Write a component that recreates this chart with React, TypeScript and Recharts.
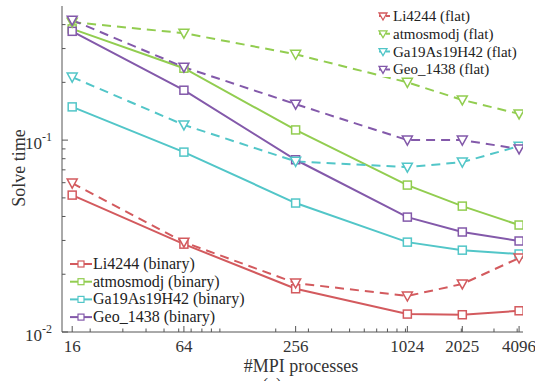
import { LineChart, Line, XAxis, YAxis } from "recharts"

// x: number of MPI processes, y: solve time (log-log)
const procs = [16, 64, 256, 1024, 2025, 4096]

const li4244Binary = [0.0517, 0.0287, 0.0168, 0.0124, 0.0123, 0.0129]
const li4244Flat = [0.0597, 0.0294, 0.018, 0.0154, 0.0178, 0.0243]
const atmosmodjBinary = [0.38, 0.237, 0.113, 0.0583, 0.0453, 0.0361]
const atmosmodjFlat = [0.412, 0.361, 0.28, 0.2, 0.162, 0.137]
const gaBinary = [0.149, 0.0866, 0.047, 0.0294, 0.0267, 0.0255]
const gaFlat = [0.213, 0.12, 0.0775, 0.0723, 0.0768, 0.093]
const geoBinary = [0.369, 0.182, 0.079, 0.0397, 0.0332, 0.0298]
const geoFlat = [0.422, 0.24, 0.154, 0.1, 0.1, 0.09]

const xMinor = [20, 30, 40, 50, 60, 70, 80, 90, 100, 200, 300, 400, 500, 600, 700, 800, 900, 1000, 2000, 3000, 4000]
const yMajor = [0.01, 0.1]
const yMinor = [0.02, 0.03, 0.04, 0.05, 0.06, 0.07, 0.08, 0.09, 0.2, 0.3, 0.4]

const RED = "#d35a5e"
const GREEN = "#92cd50"
const CYAN = "#52c6c8"
const PURPLE = "#8359aa"
const AXIS = "#555"
const FONT = "'Liberation Serif', 'Times New Roman', serif"

const series = [
  { key: "liB", name: "Li4244 (binary)", color: RED, flat: false, values: li4244Binary },
  { key: "atB", name: "atmosmodj (binary)", color: GREEN, flat: false, values: atmosmodjBinary },
  { key: "gaB", name: "Ga19As19H42 (binary)", color: CYAN, flat: false, values: gaBinary },
  { key: "geB", name: "Geo_1438 (binary)", color: PURPLE, flat: false, values: geoBinary },
  { key: "liF", name: "Li4244 (flat)", color: RED, flat: true, values: li4244Flat },
  { key: "atF", name: "atmosmodj (flat)", color: GREEN, flat: true, values: atmosmodjFlat },
  { key: "gaF", name: "Ga19As19H42 (flat)", color: CYAN, flat: true, values: gaFlat },
  { key: "geF", name: "Geo_1438 (flat)", color: PURPLE, flat: true, values: geoFlat },
]

const data = procs.map((p, i) => {
  const row: Record<string, number> = { p }
  series.forEach((s) => (row[s.key] = s.values[i]))
  return row
})

const xTicks = [...procs, ...xMinor].sort((a, b) => a - b)
const yTicks = [...yMajor, ...yMinor].sort((a, b) => a - b)

const square = (color: string, size: number) => (props: any) => {
  const { cx, cy, index } = props
  if (cx == null || cy == null) return <g key={index} />
  return (
    <rect key={index} x={cx - size / 2} y={cy - size / 2} width={size} height={size} fill="#fff" stroke={color} strokeWidth={1.5} />
  )
}

const triangle = (color: string) => (props: any) => {
  const { cx, cy, index } = props
  if (cx == null || cy == null) return <g key={index} />
  return (
    <path key={index} d={`M${cx - 5},${cy - 4}L${cx + 5},${cy - 4}L${cx},${cy + 5}Z`} fill="#fff" stroke={color} strokeWidth={1.5} />
  )
}

function BottomTick({ x, y, payload }: any) {
  const major = procs.includes(payload.value)
  return (
    <g>
      <line x1={x} x2={x} y1={y} y2={y - (major ? 6 : 3.5)} stroke={AXIS} />
      {major && (
        <text x={x} y={y + 20} textAnchor="middle" fontSize={17} fontFamily={FONT} fill="#333">
          {payload.value}
        </text>
      )}
    </g>
  )
}

function TopTick({ x, y, payload }: any) {
  const major = procs.includes(payload.value)
  return <line x1={x} x2={x} y1={y} y2={y + (major ? 6 : 3.5)} stroke={AXIS} />
}

function LeftTick({ x, y, payload }: any) {
  const major = yMajor.includes(payload.value)
  const exp = Math.round(Math.log10(payload.value))
  return (
    <g>
      <line x1={x} x2={x + (major ? 6 : 3.5)} y1={y} y2={y} stroke={AXIS} />
      {major && (
        <text x={x - 10} y={y + 9} textAnchor="end" fontSize={17} fontFamily={FONT} fill="#333">
          10
          <tspan dy={-8} fontSize={12}>
            {exp}
          </tspan>
        </text>
      )}
    </g>
  )
}

function RightTick({ x, y, payload }: any) {
  const major = yMajor.includes(payload.value)
  return <line x1={x} x2={x - (major ? 6 : 3.5)} y1={y} y2={y} stroke={AXIS} />
}

export default function App() {
  const binary = series.filter((s) => !s.flat)
  const flat = series.filter((s) => s.flat)

  return (
    <div style={{ position: "absolute", left: 0, top: 0, width: 535, height: 381, background: "#fff", overflow: "hidden" }}>
      <LineChart width={535} height={381} data={data} margin={{ top: 6, right: 12, bottom: 0, left: 0 }}>
        <XAxis
          dataKey="p"
          type="number"
          scale="log"
          domain={[14.1, 4300]}
          allowDataOverflow
          ticks={xTicks}
          interval={0}
          height={49}
          tickSize={0}
          tickMargin={0}
          tickLine={false}
          tick={BottomTick}
          axisLine={{ stroke: AXIS }}
        />
        <XAxis
          xAxisId="top"
          orientation="top"
          dataKey="p"
          type="number"
          scale="log"
          domain={[14.1, 4300]}
          allowDataOverflow
          ticks={xTicks}
          interval={0}
          height={0}
          tickSize={0}
          tickMargin={0}
          tickLine={false}
          tick={TopTick}
          axisLine={{ stroke: AXIS }}
        />
        <YAxis
          type="number"
          scale="log"
          domain={[0.01, 0.5]}
          allowDataOverflow
          ticks={yTicks}
          interval={0}
          width={62}
          tickSize={0}
          tickMargin={0}
          tickLine={false}
          tick={LeftTick}
          axisLine={{ stroke: AXIS }}
        />
        <YAxis
          yAxisId="right"
          orientation="right"
          type="number"
          scale="log"
          domain={[0.01, 0.5]}
          allowDataOverflow
          ticks={yTicks}
          interval={0}
          width={0}
          tickSize={0}
          tickMargin={0}
          tickLine={false}
          tick={RightTick}
          axisLine={{ stroke: AXIS }}
        />
        {series.map((s) => (
          <Line
            key={s.key}
            dataKey={s.key}
            name={s.name}
            stroke={s.color}
            strokeWidth={2}
            strokeDasharray={s.flat ? "9 6" : undefined}
            dot={s.flat ? triangle(s.color) : square(s.color, 8)}
            activeDot={false}
            isAnimationActive={false}
          />
        ))}
      </LineChart>

      <svg width={535} height={381} style={{ position: "absolute", left: 0, top: 0, pointerEvents: "none" }} fontFamily={FONT}>
        <text transform="translate(25,168) rotate(-90)" textAnchor="middle" fontSize={18} fill="#333">
          Solve time
        </text>
        <text x={301} y={372} textAnchor="middle" fontSize={18} fill="#333">
          #MPI processes
        </text>
        <text x={272} y={391} textAnchor="middle" fontSize={18} fill="#333">
          (a)
        </text>

        {binary.map((s, i) => {
          const cy = 264 + i * 17.7
          return (
            <g key={s.key}>
              <line x1={70} x2={92} y1={cy} y2={cy} stroke={s.color} strokeWidth={2} />
              <rect x={78} y={cy - 3} width={6} height={6} fill="#fff" stroke={s.color} strokeWidth={1.2} />
              <text x={93} y={cy + 5} fontSize={16} fill="#222">
                {s.name}
              </text>
            </g>
          )
        })}

        <rect x={377} y={7} width={143} height={70} fill="#fff" />
        {flat.map((s, i) => {
          const cy = 16 + i * 17.8
          return (
            <g key={s.key}>
              <line x1={379} x2={392} y1={cy} y2={cy} stroke={s.color} strokeWidth={2} strokeDasharray="4 3" />
              <path d={`M${379},${cy - 3}L${387},${cy - 3}L${383},${cy + 4}Z`} fill="#fff" stroke={s.color} strokeWidth={1.3} />
              <text x={393} y={cy + 5} fontSize={15} fill="#222">
                {s.name}
              </text>
            </g>
          )
        })}
      </svg>
    </div>
  )
}
